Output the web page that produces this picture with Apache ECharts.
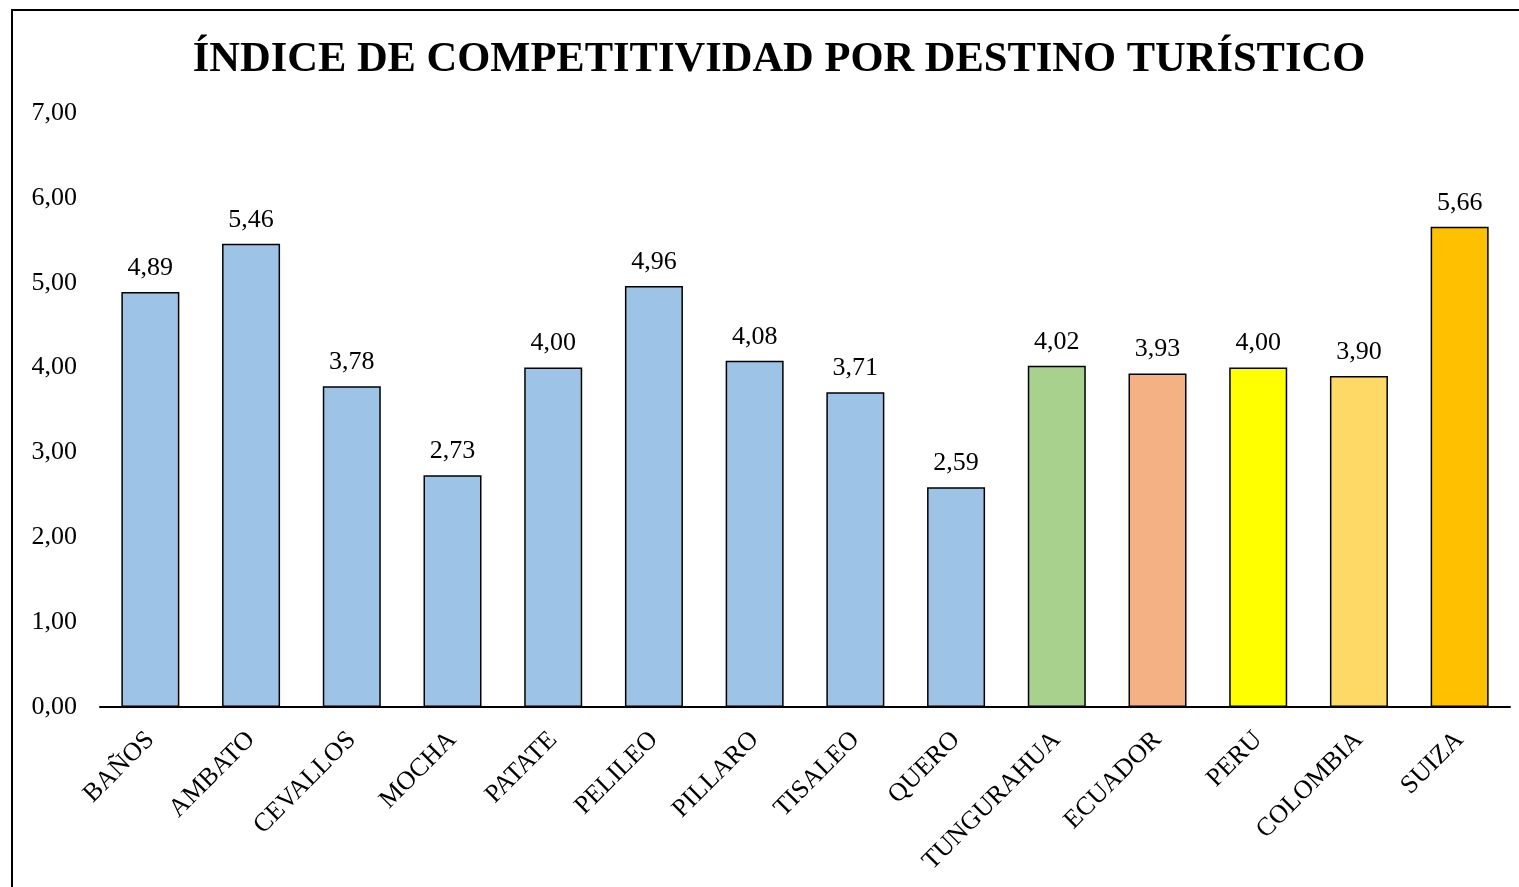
<!DOCTYPE html>
<html><head><meta charset="utf-8">
<script src="https://cdn.jsdelivr.net/npm/echarts@6/dist/echarts.min.js"></script>
<style>html,body{margin:0;padding:0;background:#fff}#c{width:1519px;height:887px}</style>
</head><body><div id="c"></div>
<script>
const categories = ['BAÑOS','AMBATO','CEVALLOS','MOCHA','PATATE','PELILEO','PILLARO','TISALEO','QUERO','TUNGURAHUA','ECUADOR','PERU','COLOMBIA','SUIZA'];
const values = [4.89,5.46,3.78,2.73,4.00,4.96,4.08,3.71,2.59,4.02,3.93,4.00,3.90,5.66];
const barColors = ['#9DC3E6','#9DC3E6','#9DC3E6','#9DC3E6','#9DC3E6','#9DC3E6','#9DC3E6','#9DC3E6','#9DC3E6','#A9D18E','#F4B183','#FFFF00','#FFD966','#FFC000'];
const yTicks = [0,1,2,3,4,5,6,7];
const fmt = v => v.toFixed(2).replace('.', ',');
const font = '"Liberation Serif", "Times New Roman", serif';
const chart = echarts.init(document.getElementById('c'));
chart.setOption({
  animation: false,
  backgroundColor: '#fff',
  title: {
    text: 'ÍNDICE DE COMPETITIVIDAD POR DESTINO TURÍSTICO',
    left: 774, textAlign: 'center', top: 34,
    textStyle: {fontFamily: font, fontWeight: 'bold', fontSize: 42.5, color: '#000'}
  },
  graphic: [{type: 'rect', shape: {x: 12, y: 10, width: 1530, height: 900}, style: {fill: 'none', stroke: '#000', lineWidth: 2}, silent: true}],
  grid: {left: 100, right: 9, top: 113, bottom: 180, containLabel: false},
  xAxis: {
    type: 'category', data: categories,
    axisLine: {lineStyle: {color: '#000', width: 2}},
    axisTick: {show: false},
    axisLabel: {rotate: 45, interval: 0, margin: 29, fontFamily: font, fontSize: 26, color: '#000'}
  },
  yAxis: {
    type: 'value', min: yTicks[0], max: yTicks[yTicks.length-1], interval: 1,
    axisLine: {show: false}, axisTick: {show: false}, splitLine: {show: false},
    axisLabel: {formatter: fmt, margin: 23, fontFamily: font, fontSize: 26, color: '#000'}
  },
  series: [{
    type: 'bar', barWidth: 58,
    data: values.map((v, i) => ({value: v, itemStyle: {color: barColors[i]}})),
    itemStyle: {borderColor: '#000', borderWidth: 1.5},
    label: {show: true, position: 'top', distance: 11, formatter: p => fmt(p.value), fontFamily: font, fontSize: 26, color: '#000'}
  }]
});
</script></body></html>
